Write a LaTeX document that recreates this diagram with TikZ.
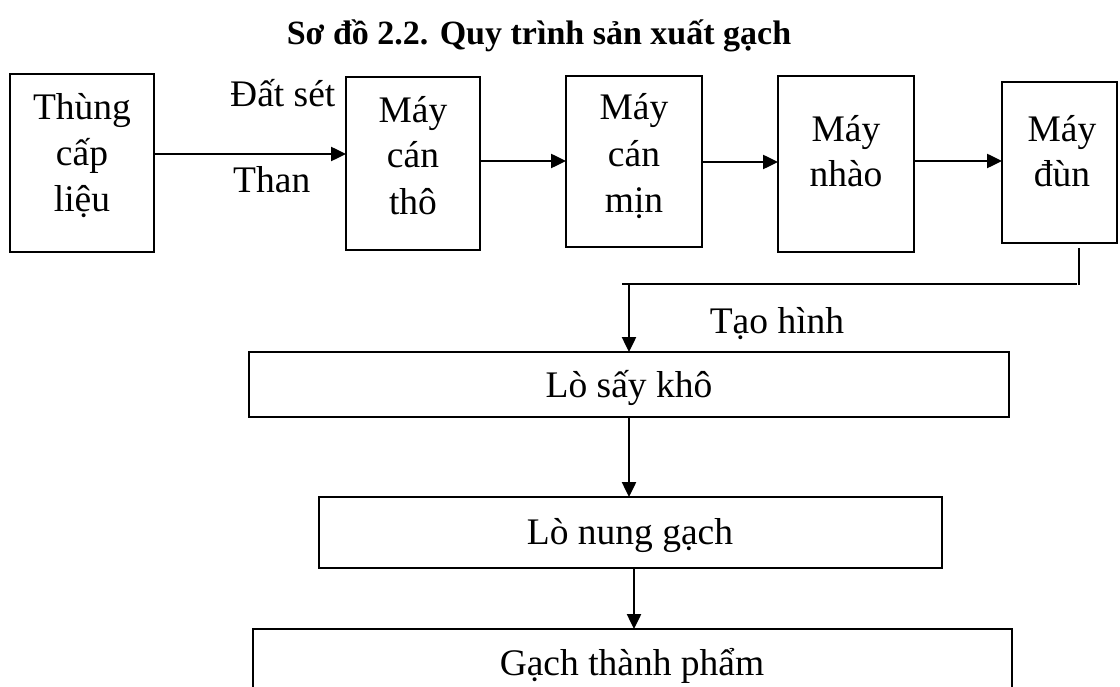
\documentclass[tikz,border=0pt]{standalone}
\usepackage{fontspec}
\setmainfont{Liberation Serif}
\usetikzlibrary{arrows.meta}
\tikzset{
  boxshape/.style={draw=black, line width=2.5pt, rectangle, inner sep=0pt, outer sep=0pt},
  txt/.style={inner sep=0pt, anchor=base, font=\fontsize{37.5pt}{46pt}\selectfont},
  ttl/.style={inner sep=0pt, anchor=base, font=\fontsize{34pt}{40pt}\selectfont\bfseries},
  ln/.style={line width=2.5pt, black},
  arr/.style={line width=2.5pt, black, -{Triangle[length=15pt,width=14pt]}}
}
\begin{document}
\begin{tikzpicture}[x=1pt,y=-1pt]
\useasboundingbox (0,0) rectangle (1120,687);
\clip (0,0) rectangle (1120,687);
\fill[white] (0,0) rectangle (1120,687);

% title
\node[ttl] (title) at (539,45) {Sơ đồ 2.2. Quy trình sản xuất gạch};

% top row boxes
\node[boxshape, minimum width=144pt, minimum height=178pt] (b1) at (82,163) {};
\node[boxshape, minimum width=134pt, minimum height=173pt] (b2) at (413,163.5) {};
\node[boxshape, minimum width=136pt, minimum height=171pt] (b3) at (634,161.5) {};
\node[boxshape, minimum width=136pt, minimum height=176pt] (b4) at (846,164) {};
\node[boxshape, minimum width=115pt, minimum height=161pt] (b5) at (1059.5,162.5) {};

% bottom boxes
\node[boxshape, minimum width=760pt, minimum height=65pt] (b6) at (629,384.5) {};
\node[boxshape, minimum width=623pt, minimum height=71pt] (b7) at (630.5,532.5) {};
\node[boxshape, minimum width=759pt, minimum height=90pt] (b8) at (632.5,674) {};

% box texts
\node[txt] (t1a) at (82,120) {Thùng};
\node[txt] (t1b) at (82,166) {cấp};
\node[txt] (t1c) at (82,212) {liệu};
\node[txt] (t2a) at (413,123) {Máy};
\node[txt] (t2b) at (413,168) {cán};
\node[txt] (t2c) at (413,215) {thô};
\node[txt] (t3a) at (634,120) {Máy};
\node[txt] (t3b) at (634,167) {cán};
\node[txt] (t3c) at (634,213) {mịn};
\node[txt] (t4a) at (846,142) {Máy};
\node[txt] (t4b) at (846,187) {nhào};
\node[txt] (t5a) at (1062,142) {Máy};
\node[txt] (t5b) at (1062,187) {đùn};
\node[txt] (t6) at (629,397) {Lò sấy khô};
\node[txt] (t7) at (630,544) {Lò nung gạch};
\node[txt] (t8) at (632,675) {Gạch thành phẩm};

% edge labels
\node[txt, anchor=base west] (ldat) at (230,107) {Đất sét};
\node[txt, anchor=base west] (lthan) at (233,193) {Than};
\node[txt] (ltao) at (777,334) {Tạo hình};

% helper coordinates
\coordinate (y12) at (0,154);
\coordinate (y23) at (0,161);
\coordinate (y34) at (0,162);
\coordinate (y45) at (0,161);
\coordinate (v1) at (1079,248);
\coordinate (v2) at (1079,285);
\coordinate (h1) at (622,284);
\coordinate (h2) at (1077,284);
\coordinate (a0) at (629,284);
\coordinate (x67) at (629,0);
\coordinate (x78) at (634,0);

% connectors
\draw[arr] (b1.east |- y12) -- (b2.west |- y12);
\draw[arr] (b2.east |- y23) -- (b3.west |- y23);
\draw[arr] (b3.east |- y34) -- (b4.west |- y34);
\draw[arr] (b4.east |- y45) -- (b5.west |- y45);
\draw[ln] (v1) -- (v2);
\draw[ln] (h1) -- (h2);
\draw[arr] (a0) -- (a0 |- b6.north);
\draw[arr] (b6.south -| x67) -- (b7.north -| x67);
\draw[arr] (b7.south -| x78) -- (b8.north -| x78);
\end{tikzpicture}
\end{document}
